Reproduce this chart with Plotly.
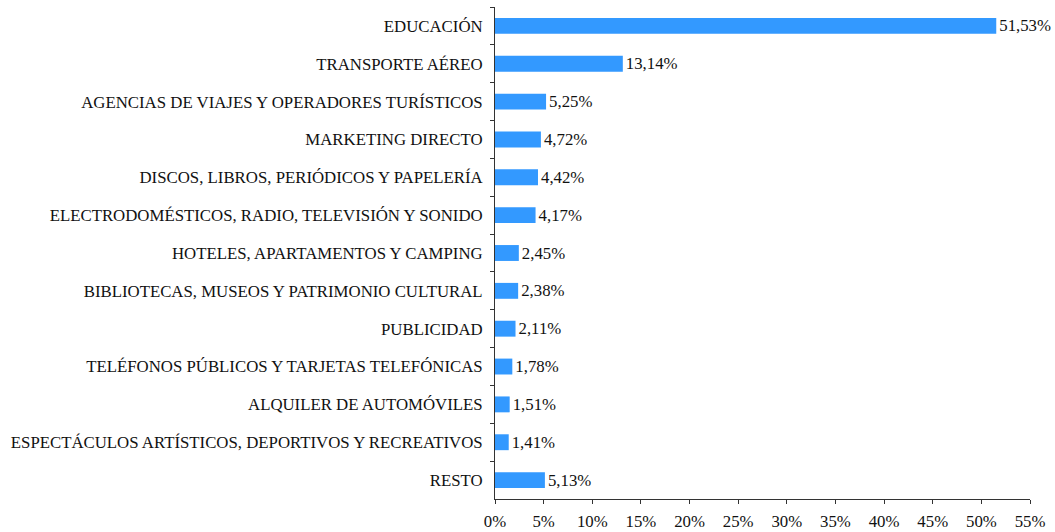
import plotly.graph_objects as go

categories = [
    "EDUCACIÓN",
    "TRANSPORTE AÉREO",
    "AGENCIAS DE VIAJES Y OPERADORES TURÍSTICOS",
    "MARKETING DIRECTO",
    "DISCOS, LIBROS, PERIÓDICOS Y PAPELERÍA",
    "ELECTRODOMÉSTICOS, RADIO, TELEVISIÓN Y SONIDO",
    "HOTELES, APARTAMENTOS Y CAMPING",
    "BIBLIOTECAS, MUSEOS Y PATRIMONIO CULTURAL",
    "PUBLICIDAD",
    "TELÉFONOS PÚBLICOS Y TARJETAS TELEFÓNICAS",
    "ALQUILER DE AUTOMÓVILES",
    "ESPECTÁCULOS ARTÍSTICOS, DEPORTIVOS Y RECREATIVOS",
    "RESTO",
]
values = [51.53, 13.14, 5.25, 4.72, 4.42, 4.17, 2.45, 2.38, 2.11, 1.78, 1.51, 1.41, 5.13]
labels = [f"{v:.2f}%".replace(".", ",") for v in values]

FONT = "Liberation Serif, Times New Roman, serif"
FS = 16.8

fig = go.Figure(
    go.Bar(
        x=values,
        y=categories,
        orientation="h",
        marker=dict(color="#3399FF", line=dict(width=0)),
        text=labels,
        textposition="outside",
        constraintext="none",
        cliponaxis=False,
        textfont=dict(family=FONT, size=FS, color="#111111"),
    )
)

fig.update_layout(
    width=1055,
    height=532,
    margin=dict(l=495, r=25, t=7, b=33, autoexpand=False),
    plot_bgcolor="white",
    paper_bgcolor="white",
    font=dict(family=FONT, size=FS, color="#111111"),
    bargap=0.58,
    showlegend=False,
)
fig.update_xaxes(
    range=[0, 55],
    dtick=5,
    tick0=0,
    ticksuffix="%",
    showgrid=False,
    zeroline=False,
    showline=True,
    linecolor="#333333",
    linewidth=1,
    ticks="outside",
    ticklen=4,
    tickcolor="#333333",
    ticklabelstandoff=3,
    automargin=False,
    tickfont=dict(family=FONT, size=FS, color="#111111"),
)
fig.update_yaxes(
    autorange="reversed",
    showgrid=False,
    zeroline=False,
    showline=True,
    linecolor="#333333",
    linewidth=1,
    ticks="outside",
    tickson="boundaries",
    ticklen=4,
    tickcolor="#333333",
    ticklabelstandoff=8,
    automargin=False,
    tickfont=dict(family=FONT, size=FS, color="#111111"),
)

fig.write_html(
    "out.html",
    config={"displayModeBar": False},
    post_script="document.body.style.margin='0';document.body.style.padding='0';",
)
